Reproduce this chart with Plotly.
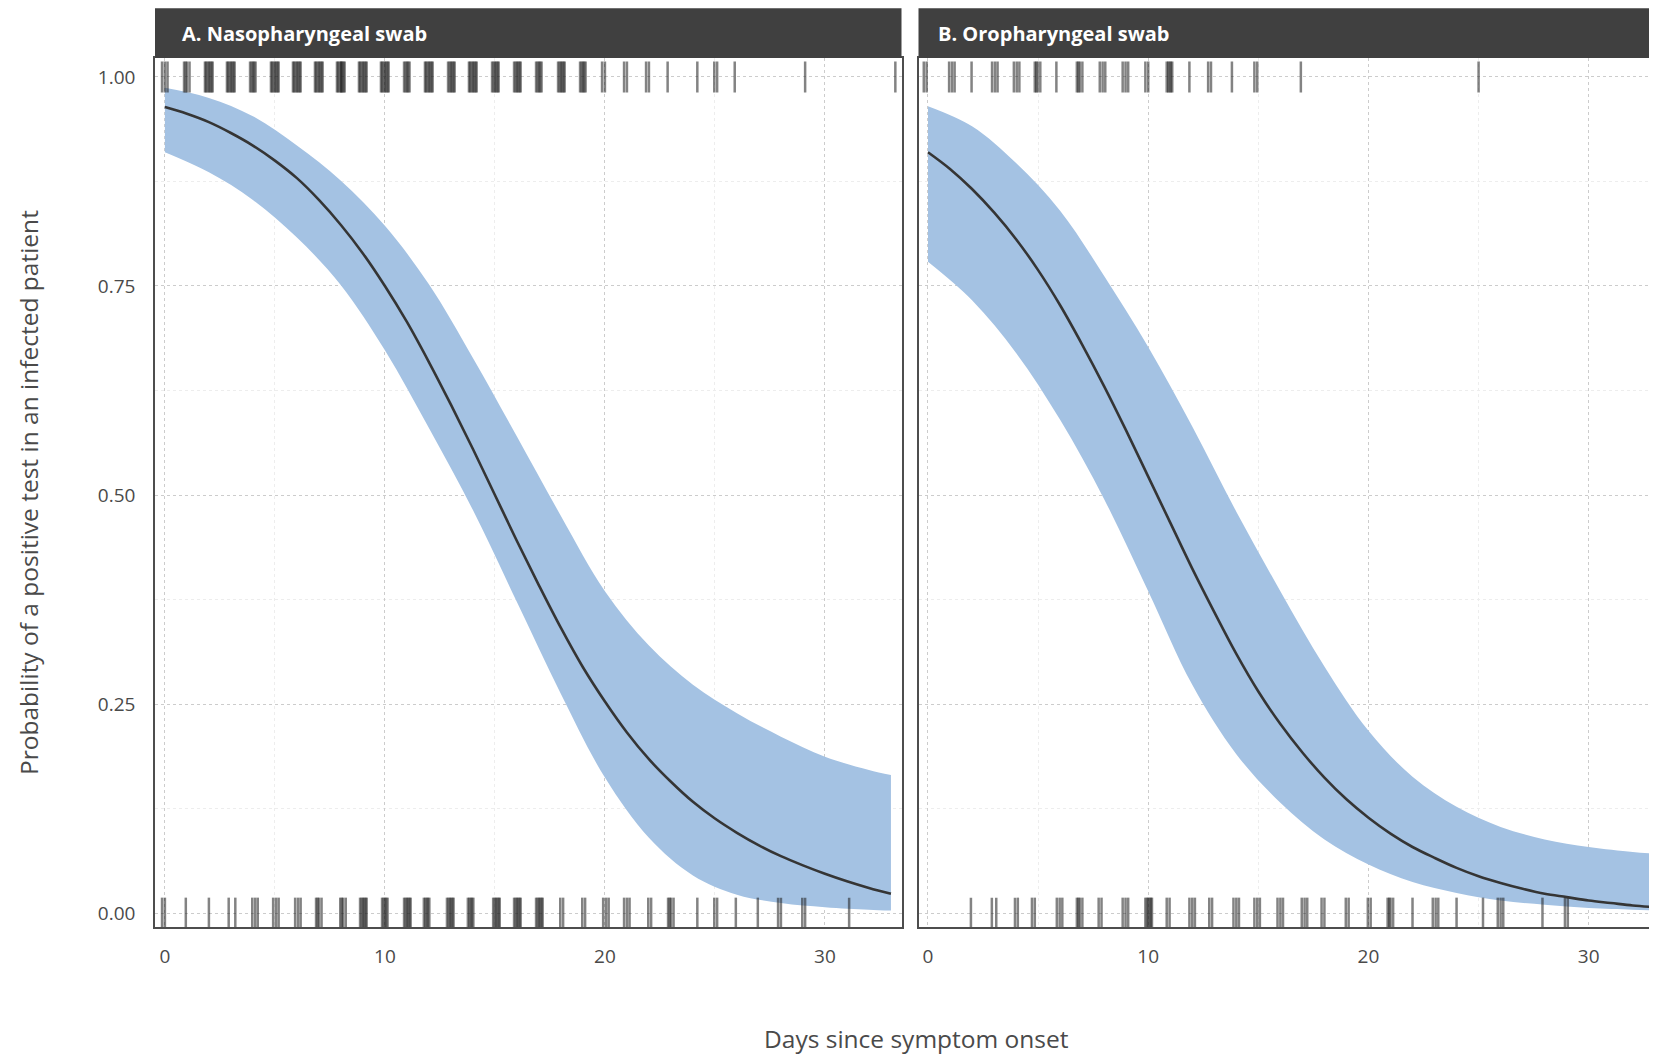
import plotly.graph_objects as go

# ---------------- data ----------------
panel_titles = ["A. Nasopharyngeal swab", "B. Oropharyngeal swab"]
x_ticks = [0, 10, 20, 30]
y_ticks = [0, 0.25, 0.5, 0.75, 1.0]
y_ticklabels = ["0.00", "0.25", "0.50", "0.75", "1.00"]

mean_days = list(range(0, 34))
mean_A = [0.964, 0.956, 0.946, 0.933, 0.918, 0.900, 0.879, 0.853, 0.823, 0.789,
          0.750, 0.707, 0.659, 0.608, 0.555, 0.500, 0.445, 0.392, 0.341, 0.294,
          0.253, 0.216, 0.184, 0.157, 0.133, 0.113, 0.096, 0.081, 0.068, 0.057,
          0.047, 0.038, 0.030, 0.023]
mean_B = [0.910, 0.890, 0.866, 0.838, 0.806, 0.769, 0.727, 0.680, 0.630, 0.577,
          0.522, 0.467, 0.412, 0.360, 0.310, 0.265, 0.226, 0.192, 0.162, 0.136,
          0.114, 0.095, 0.079, 0.066, 0.054, 0.044, 0.036, 0.029, 0.023, 0.019,
          0.015, 0.012, 0.009, 0.007]

band_days = [0, 2, 4, 6, 8, 10, 12, 14, 16, 18, 20, 22, 24, 26, 28, 30, 32, 33]
upper_A = [0.987, 0.975, 0.953, 0.918, 0.876, 0.822, 0.752, 0.664, 0.570, 0.475,
           0.385, 0.320, 0.273, 0.239, 0.211, 0.187, 0.171, 0.165]
lower_A = [0.910, 0.886, 0.853, 0.808, 0.751, 0.673, 0.580, 0.482, 0.372, 0.262,
           0.162, 0.090, 0.045, 0.022, 0.012, 0.007, 0.004, 0.003]
upper_B = [0.965, 0.941, 0.897, 0.840, 0.762, 0.677, 0.582, 0.480, 0.385, 0.295,
           0.218, 0.163, 0.127, 0.103, 0.088, 0.079, 0.073, 0.071]
lower_B = [0.779, 0.733, 0.670, 0.590, 0.495, 0.385, 0.273, 0.190, 0.132, 0.088,
           0.058, 0.037, 0.024, 0.015, 0.010, 0.006, 0.004, 0.003]

# rug observations: day of test and number of tests at that day
rug_A_pos_days = [0, 1, 2, 3, 4, 5, 6, 7, 8, 9, 10, 11, 12, 13, 14, 15, 16, 17, 18,
                  19, 20, 21, 22, 22.85, 24.2, 25.1, 25.9, 29.1, 33.2]
rug_A_pos_n = [3, 4, 7, 7, 5, 7, 7, 7, 8, 7, 7, 5, 7, 6, 7, 6, 6, 5, 6,
               5, 2, 2, 2, 1, 1, 2, 1, 1, 1]
rug_A_neg_days = [0, 0.95, 2, 2.9, 3.2, 4.1, 5.05, 6.05, 7, 8.1, 9, 10, 11, 11.9,
                  12.95, 13.9, 15.05, 16, 17, 18.1, 19.1, 20.05, 21, 22.1, 23,
                  24.2, 25.1, 25.95, 26.95, 28, 29.1, 31.1]
rug_A_neg_n = [2, 1, 1, 1, 1, 3, 3, 3, 4, 4, 6, 5, 6, 5, 6, 5, 6, 6, 6, 2, 2, 3,
               3, 2, 4, 1, 2, 1, 1, 2, 2, 1]
rug_B_pos_days = [-0.06, 1.09, 1.98, 3.04, 4.03, 4.98, 5.83, 6.89, 7.93, 8.97,
                  10.0, 10.97, 11.87, 12.85, 13.8, 14.95, 16.93, 25.0]
rug_B_pos_n = [2, 3, 1, 3, 3, 4, 1, 4, 3, 3, 2, 5, 1, 2, 1, 2, 1, 1]
rug_B_neg_days = [1.95, 2.9, 3.1, 4.08, 4.85, 5.98, 6.89, 7.88, 8.97, 10.0, 10.97,
                  12.0, 12.9, 14.0, 14.95, 16.0, 17.1, 18.0, 19.1, 20.1, 21.0,
                  22.0, 23.05, 24.0, 25.2, 26.0, 27.9, 29.05]
rug_B_neg_n = [1, 1, 1, 2, 2, 3, 4, 2, 3, 6, 2, 3, 2, 3, 3, 3, 3, 2, 2, 2, 4, 1,
               3, 1, 1, 3, 1, 2]

# ---------------- style ----------------
JITTER = [0.0, -0.13, 0.12, -0.06, 0.06, 0.17, -0.18, 0.02, -0.11, 0.1]
BAND = "rgb(164,194,227)"
LINE = "#353535"
FONT = "Open Sans"
TXT = "#4a4a4a"

OFF = 8  # page body margin
W, H = 1657 - OFF, 1054 - OFF
L, T = 155 - OFF, 58 - OFF
PB = 927 - OFF            # plot bottom (px)
R, B = 0, H - PB
pw = W - L - R
ph = H - T - B
domA = [0.0, (901.5 - 155) / pw]
domB = [(918.5 - 155) / pw, 1.0]
rangeA = [-0.45, 33.48]
rangeB = [-0.43, 33.1]
yrange = [-0.0167, 1.0227]

fig = go.Figure()


def rug_xy(days, counts):
    xs = []
    for d, n in zip(days, counts):
        for k in range(n):
            xs.append(d + JITTER[k])
    return xs


panels = [
    ("x", "y", upper_A, lower_A, mean_A, rug_A_pos_days, rug_A_pos_n, rug_A_neg_days, rug_A_neg_n),
    ("x2", "y2", upper_B, lower_B, mean_B, rug_B_pos_days, rug_B_pos_n, rug_B_neg_days, rug_B_neg_n),
]
for xa, ya, up, lo, mn, pd_, pn, nd, nn in panels:
    fig.add_trace(go.Scatter(x=band_days, y=lo, mode="lines", line=dict(width=0, shape="spline"),
                             xaxis=xa, yaxis=ya, showlegend=False, hoverinfo="skip"))
    fig.add_trace(go.Scatter(x=band_days, y=up, mode="lines", line=dict(width=0, shape="spline"),
                             fill="tonexty", fillcolor=BAND,
                             xaxis=xa, yaxis=ya, showlegend=False, hoverinfo="skip"))
    for days, counts, yv in [(pd_, pn, 1.0), (nd, nn, 0.0)]:
        xs = rug_xy(days, counts)
        fig.add_trace(go.Scatter(
            x=xs, y=[yv] * len(xs), mode="markers",
            marker=dict(symbol="line-ns", size=22,
                        line=dict(width=2.5, color="rgba(30,30,30,0.55)")),
            xaxis=xa, yaxis=ya, showlegend=False, hoverinfo="skip"))
    fig.add_trace(go.Scatter(x=mean_days, y=mn, mode="lines",
                             line=dict(color=LINE, width=2.6, shape="spline"),
                             xaxis=xa, yaxis=ya, showlegend=False))

grid_major = dict(showgrid=True, gridcolor="#cccccc", griddash="dot", gridwidth=1)
minor_x = dict(dtick=5, showgrid=True, gridcolor="#ededed", griddash="dot", gridwidth=1)
minor_y = dict(dtick=0.125, showgrid=True, gridcolor="#ededed", griddash="dot", gridwidth=1)

xcommon = dict(tickvals=x_ticks, ticks="outside", ticklen=11, tickcolor="rgba(0,0,0,0)",
               tickfont=dict(family=FONT, size=19, color=TXT), zeroline=False,
               showline=True, linecolor="#4d4d4d", linewidth=1.6, minor=minor_x, **grid_major)
ycommon = dict(range=yrange, tickvals=y_ticks, ticktext=y_ticklabels, ticks="outside",
               ticklen=14, tickcolor="rgba(0,0,0,0)",
               tickfont=dict(family=FONT, size=19, color=TXT), zeroline=False,
               showline=True, linecolor="#4d4d4d", linewidth=1.6, minor=minor_y, **grid_major)

fig.update_layout(
    width=W, height=H,
    margin=dict(l=L, r=R, t=T, b=B),
    paper_bgcolor="white", plot_bgcolor="white",
    xaxis=dict(domain=domA, range=rangeA, mirror=True, anchor="y", **xcommon),
    xaxis2=dict(domain=domB, range=rangeB, mirror=True, anchor="y2", **xcommon),
    yaxis=dict(domain=[0, 1], anchor="x", mirror=True, **ycommon),
    yaxis2=dict(domain=[0, 1], anchor="x2", mirror=False, showticklabels=False, **ycommon),
)

strip_top = 1 + (58 - 8.3) / ph
strip_mid = 1 + (58 - 33.2) / ph
text_x = [(180 - 155) / pw, (936 - 155) / pw]
for dom, title, tx in zip([domA, domB], panel_titles, text_x):
    fig.add_shape(type="rect", xref="paper", yref="paper", x0=dom[0], x1=dom[1],
                  y0=1.0, y1=strip_top, fillcolor="#404040", line=dict(width=0), layer="above")
    fig.add_annotation(xref="paper", yref="paper", x=tx, y=strip_mid, text=title,
                       showarrow=False, xanchor="left", yanchor="middle",
                       font=dict(family=FONT, size=20, color="white", weight="bold"))

fig.add_annotation(xref="paper", yref="paper", x=(916 - 155) / pw, y=-(1038 - 927) / ph,
                   text="Days since symptom onset", showarrow=False,
                   xanchor="center", yanchor="middle",
                   font=dict(family=FONT, size=24.5, color=TXT))
fig.add_annotation(xref="paper", yref="paper", x=(28.5 - 155) / pw, y=0.5,
                   text="Probability of a positive test in an infected patient",
                   showarrow=False, textangle=-90, xanchor="center", yanchor="middle",
                   font=dict(family=FONT, size=24.5, color=TXT))

fig.write_html("out.html")
